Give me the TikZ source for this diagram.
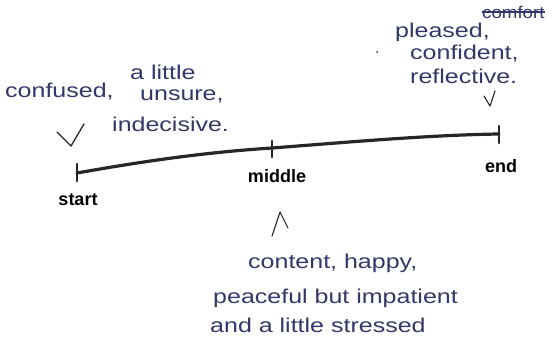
\documentclass[tikz,border=0pt]{standalone}
\usepackage{fontspec}
\setmainfont{Liberation Sans}
\definecolor{ink}{HTML}{343769}
\newcommand{\hw}[1]{\scalebox{1.25}[1.0]{#1}}
\begin{document}
\begin{tikzpicture}[x=1pt,y=-1pt,
  hand/.style={text=ink,font=\fontsize{20}{22}\selectfont,inner sep=0pt},
  lbl/.style={text=black,font=\bfseries\fontsize{18}{20}\selectfont,inner sep=0pt},
  axis/.style={line width=3.2pt,line cap=round,black!85},
  tickmark/.style={line width=2.8pt,line cap=round,black!85},
  checkmk/.style={draw=black!85,line width=1.3pt,line cap=round,line join=round}]
\useasboundingbox (0,0) rectangle (557,359);
\fill[white] (0,0) rectangle (557,359);
% timeline
\coordinate (s) at (77,173);
\coordinate (m) at (272,148);
\coordinate (e) at (499,134);
\draw[axis] (s) .. controls (150,160) and (210,152) .. (m) .. controls (350,142) and (430,135) .. (e);
\draw[tickmark] ([yshift=-8]s) -- ([yshift=9]s);
\draw[tickmark] ([yshift=-9]m) -- ([yshift=7]m);
\draw[tickmark] ([yshift=-9]e) -- ([yshift=8]e);
% labels
\node[lbl] (ls) at (78,200) {start};
\node[lbl] (lm) at (277,176) {middle};
\node[lbl] (le) at (501,166) {end};
% left text
\node[hand,anchor=west] (t1) at (5,92) {\hw{confused,}};
\node[hand,anchor=west] (t2) at (130,72) {\hw{a little}};
\node[hand,anchor=west] (t3) at (140,96) {\hw{unsure,}};
\node[hand,anchor=west] (t4) at (112,124) {\hw{indecisive.}};
\draw[checkmk] (57,132) -- (71,146) -- (84,124);
% right text
\node[hand,anchor=west] (r1) at (395,32) {\hw{pleased,}};
\node[hand,anchor=west,font=\fontsize{17}{19}\selectfont] (r2) at (482,12) {\scalebox{1.1}[1.0]{comfort}};
\draw[ink,line width=1.8pt] (r2.west) -- (r2.east);
\node[hand,anchor=west] (r3) at (410,54) {\hw{confident,}};
\node[hand,anchor=west] (r4) at (410,76) {\hw{reflective.}};
\fill[ink] (377,52) circle (1pt);
\draw[checkmk,line width=1.1pt] (484,96) -- (490,106) -- (495,91);
% bottom text
\draw[checkmk,line width=1.1pt] (272,236) -- (280,212) -- (288,228);
\node[hand,anchor=west] (b1) at (248,263) {\hw{content, happy,}};
\node[hand,anchor=west] (b2) at (213,298) {\hw{peaceful but impatient}};
\node[hand,anchor=west] (b3) at (210,325) {\hw{and a little stressed}};
\end{tikzpicture}
\end{document}
